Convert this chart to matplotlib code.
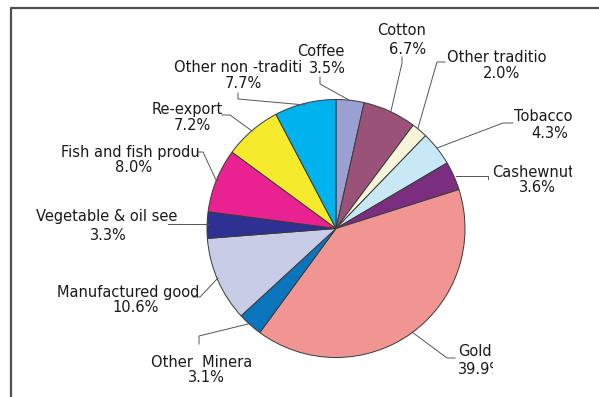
"""
Export composition pie (share of total exports, %). Renders out.png.
"""
import matplotlib
matplotlib.use("Agg")
import matplotlib.pyplot as plt
from matplotlib.transforms import Bbox

plt.rcParams.update({"font.family": ["DejaVu Sans"], "font.size": 10.5})

# clockwise from 12 o'clock
categories = ["Coffee", "Cotton", "Other traditional", "Tobacco", "Cashewnuts", "Gold",
              "Other Minerals", "Manufactured goods", "Vegetable & oil seeds",
              "Fish and fish products", "Re-export", "Other non -traditional"]
shares = [3.5, 6.7, 2.0, 4.3, 3.6, 39.9, 3.1, 10.6, 3.3, 8.0, 7.2, 7.7]
# labels as they appear in the chart (cut off by the label boxes)
shown_names = ["Coffee", "Cotton", "Other traditio", "Tobacco", "Cashewnuts", "Gold",
               "Other  Minera", "Manufactured good", "Vegetable & oil see",
               "Fish and fish produ", "Re-export", "Other non -traditi"]
colors = ["#9aa1d2", "#9b5279", "#f6f5d9", "#c9e8f5", "#7b2e7f", "#f19593",
          "#0a74bd", "#c9cce7", "#2e3193", "#ea2190", "#f6ea2c", "#00b3ee"]

# label layout in pixel coords: (name x, name baseline, pct x, pct baseline)
label_pos = [(321, 56, 327, 73), (402, 35, 408, 54), (497, 62, 502, 78),
             (543, 121, 550, 138), (531, 177, 537, 192), (475, 356, 476, 374),
             (202, 367, 206, 382), (128, 297, 136, 312), (107, 221, 108, 240),
             (130, 157, 134, 172), (187, 114, 192, 130), (238, 72, 243, 88)]
leaders = [[(320, 77), (320, 84), (349, 100)],
           [(402, 57), (402, 63), (391, 111)],
           [(445, 62), (437, 62), (418, 128)],
           [(513, 123), (503, 123), (437, 148)],
           [(488, 179), (488, 176), (456, 176)],
           [(455, 358), (447, 358), (412, 332)],
           [(199, 344), (199, 336), (248, 324)],
           [(193, 297), (200, 297), (218, 278)],
           [(168, 224), (208, 224)],
           [(197, 152), (203, 152), (216, 180)],
           [(222, 115), (230, 115), (252, 131)],
           [(238, 93), (238, 99), (305, 105)]]
# label boxes that cut text on the right: index -> (left x, right clip x)
cut_names = {4: (492, 572)}
cut_pcts = {5: (458, 493)}

W, H = 599, 397
fig = plt.figure(figsize=(W / 100, H / 100), dpi=100)
ax = fig.add_axes([0, 0, 1, 1])

ax.pie(shares, colors=colors, center=(336, 228.5), radius=129,
       startangle=-90, counterclock=True,
       wedgeprops={"edgecolor": "#3a3a3a", "linewidth": 0.7})
ax.set_xlim(0, W); ax.set_ylim(H, 0)
ax.set_aspect("auto")
ax.axis("off")

# frame (left + top only)
ax.plot([11, 11, W], [H, 8, 8], color="#505050", lw=1.6, solid_capstyle="butt")


def put(x, y, s, cut=None):
    if cut is None:
        ax.text(x, y, s, ha="center", va="baseline", color="#1a1a1a")
        return
    t = ax.text(cut[0], y, s, ha="left", va="baseline", color="#1a1a1a")
    t.set_clip_box(Bbox.from_extents(0, 0, cut[1], H))  # display px
    t.set_clip_on(True)


for i, (name, v, (nx, ny, px, py), pts) in enumerate(
        zip(shown_names, shares, label_pos, leaders)):
    xs, ys = zip(*pts)
    ax.plot(xs, ys, color="#555555", lw=0.7)
    put(nx, ny, name, cut_names.get(i))
    put(px, py, f"{v:.1f}%", cut_pcts.get(i))

fig.savefig("out.png", dpi=100)
